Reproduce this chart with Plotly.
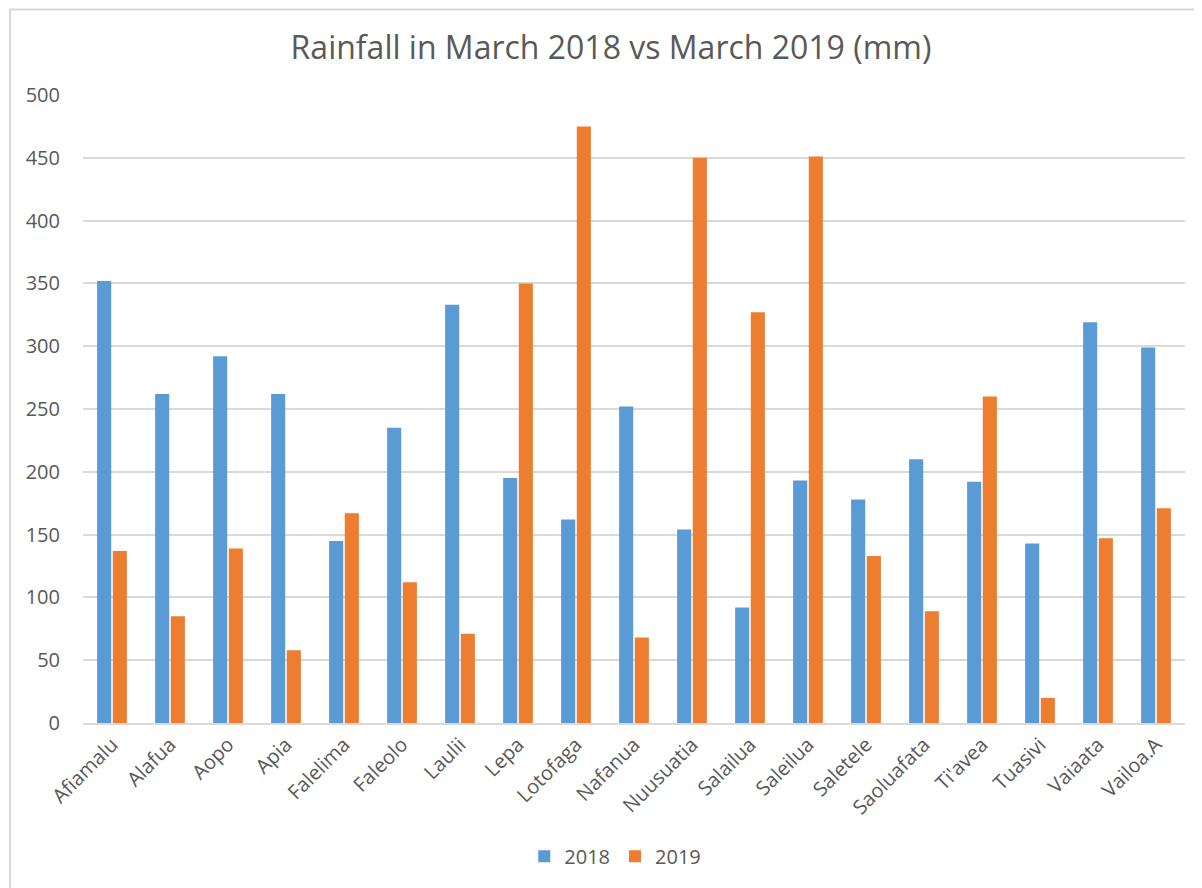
import plotly.graph_objects as go

categories = ["Afiamalu", "Alafua", "Aopo", "Apia", "Falelima", "Faleolo", "Laulii", "Lepa",
              "Lotofaga", "Nafanua", "Nuusuatia", "Salailua", "Saleilua", "Saletele",
              "Saoluafata", "Ti'avea", "Tuasivi", "Vaiaata", "Vailoa.A"]
rain_2018 = [352, 262, 292, 262, 145, 235, 333, 195, 162, 252, 154, 92, 193, 178, 210, 192, 143, 319, 299]
rain_2019 = [137, 85, 139, 58, 167, 112, 71, 350, 475, 68, 450, 327, 451, 133, 89, 260, 20, 147, 171]
y_ticks = [0, 50, 100, 150, 200, 250, 300, 350, 400, 450, 500]

text_color = "#595959"
grid_color = "#d9d9d9"
font_family = "Open Sans, Liberation Sans, sans-serif"

fig = go.Figure()
fig.add_trace(go.Bar(name="2018", x=categories, y=rain_2018, marker_color="#5b9bd5",
                     marker_line_width=0))
fig.add_trace(go.Bar(name="2019", x=categories, y=rain_2019, marker_color="#ed7d31",
                     marker_line_width=0))

# page body adds an 8px offset; figure is sized/positioned to compensate
fig.update_layout(
    width=1194, height=880,
    barmode="group", bargap=0.46, bargroupgap=0.1,
    paper_bgcolor="white", plot_bgcolor="white",
    margin=dict(l=75, r=17, t=87, b=160),
    font=dict(family=font_family, color=text_color, size=20),
    title=dict(text="Rainfall in March 2018 vs March 2019 (mm)", x=0.505, xref="container",
               y=0.9545, yref="container", xanchor="center", yanchor="middle",
               font=dict(size=32, color=text_color, family=font_family)),
    legend=dict(orientation="h", x=0.483, y=-0.212, xanchor="center", yanchor="middle",
                font=dict(size=20, color=text_color)),
    showlegend=True,
)
fig.update_xaxes(tickangle=-45, tickfont=dict(size=20, color=text_color), showgrid=False,
                 showline=True, linecolor=grid_color, linewidth=2, ticks="")
fig.update_yaxes(range=[0, 500], tickvals=y_ticks, showgrid=True, gridcolor=grid_color, gridwidth=1.5,
                 zeroline=False, showline=False, ticks="", ticklabelstandoff=22,
                 tickfont=dict(size=20, color=text_color))

fig.add_shape(type="rect", xref="paper", yref="paper", x0=-0.0662, y0=-0.5, x1=1.2, y1=1.136,
              line=dict(color=grid_color, width=2), fillcolor="rgba(0,0,0,0)", layer="below")

fig.write_html("out.html")
